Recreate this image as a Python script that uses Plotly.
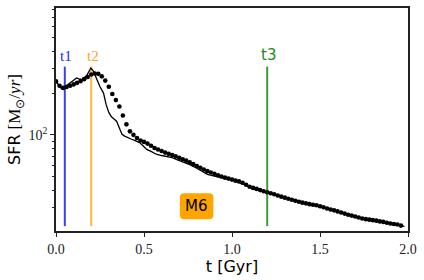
import numpy as np
import plotly.graph_objects as go

# Simulation SFR (solid line)
t_sim = [0.0, 0.015, 0.03, 0.045, 0.06, 0.08, 0.1, 0.117, 0.13, 0.145, 0.16, 0.175, 0.19, 0.197,
         0.205, 0.215, 0.23, 0.25, 0.27, 0.285, 0.3, 0.315, 0.33, 0.345, 0.36, 0.375, 0.39, 0.41,
         0.43, 0.45, 0.475, 0.5, 0.515, 0.54, 0.57, 0.6, 0.63, 0.66, 0.69, 0.72, 0.76, 0.8, 0.83,
         0.86, 0.9, 0.95, 1.0, 1.04, 1.08, 1.12, 1.16, 1.2, 1.25, 1.3, 1.35, 1.4, 1.45, 1.5, 1.55,
         1.6, 1.65, 1.7, 1.75, 1.8, 1.85, 1.9, 1.95, 1.98]
sfr_sim = [243, 228, 216, 219, 226, 237, 246, 257, 253, 250, 258, 268, 290, 303,
           296, 284, 255, 222, 200, 165, 145, 135, 130, 125, 112, 101, 98, 95,
           93, 91, 88, 82, 78.5, 76, 72.5, 71, 70, 68.5, 66, 64, 61, 57.5, 54.5,
           52, 50.5, 49, 47.3, 45.5, 43, 41, 39.8, 38.2, 36.6, 35, 33.6, 32.3, 31.3, 30.4, 29,
           27.9, 26.6, 25.6, 24.6, 24.0, 23.5, 22.9, 22.3, 21.9]

# Model SFR (dots), one every 0.02 Gyr from 0.00 to 1.96
t_mod = [round(0.02 * i, 2) for i in range(99)]
sfr_mod = [
    243, 226, 218, 221, 226, 231, 237, 244, 252, 261,
    272, 277, 275, 264, 246, 222, 197, 178, 160, 138,
    119, 106, 100, 95, 91, 89, 86.5, 83.5, 80.5, 78.5,
    76.5, 74.5, 73, 71.5, 70, 68.3, 66.8, 65.2, 63.5, 61.5,
    59.6, 58, 56.3, 54.8, 53.6, 52.4, 51.2, 50.1, 49.2, 48.4,
    47.6, 46.8, 46.2, 45.2, 43.7, 42.3, 41.5, 40.8, 40, 39.2,
    38.6, 38, 37.3, 36.6, 35.9, 35.3, 34.7, 34.1, 33.5, 33,
    32.5, 32.1, 31.7, 31.4, 31.1, 30.6, 30.1, 29.5, 29.0, 28.6,
    28.1, 27.6, 27.1, 26.6, 26.2, 25.8, 25.4, 25.0, 24.7, 24.5,
    24.3, 24.1, 23.8, 23.6, 23.3, 23.0, 22.8, 22.6, 22.2]

# Marker times
t_marks = [0.05, 0.2, 1.2]
mark_labels = ["t1", "t2", "t3"]
mark_line_colors = ["#3c3cf2", "#ffb53c", "#3a9a3a"]
mark_text_colors = ["#2424f0", "#ffa51a", "#1e8c1e"]
mark_fonts = ["Liberation Serif", "Liberation Serif", "DejaVu Sans"]
mark_y = [22, 310]

y_ticks_minor = [20, 30, 40, 50, 60, 70, 80, 90, 200, 300, 400, 500, 600, 700, 800]
y_range = [np.log10(20.3), np.log10(820)]
x_ticks = [0.0, 0.5, 1.0, 1.5, 2.0]
x_ticklabels = ["0.0", "0.5", "1.0", "1.5", "2.0"]

fig = go.Figure()

for t, c in zip(t_marks, mark_line_colors):
    fig.add_trace(go.Scatter(x=[t, t], y=mark_y, mode="lines",
                             line=dict(color=c, width=2), showlegend=False, hoverinfo="skip"))

fig.add_trace(go.Scatter(x=t_sim, y=sfr_sim, mode="lines",
                         line=dict(color="black", width=1.3), showlegend=False))
fig.add_trace(go.Scatter(x=t_mod, y=sfr_mod, mode="markers",
                         marker=dict(color="black", size=4.6, line=dict(width=0)), showlegend=False))

for t, lab, c, f in zip(t_marks, mark_labels, mark_text_colors, mark_fonts):
    fig.add_annotation(x=t, y=np.log10(mark_y[1]), text=lab, showarrow=False,
                       xanchor="center", yanchor="bottom", xshift=1.5, yshift=1,
                       font=dict(family=f, size=15, color=c))

# Rounded label box for "M6"
x0, x1, y0, y1 = 0.352, 0.447, 0.053, 0.169
rx, ry = 0.012, 0.018
path = (f"M {x0+rx},{y0} L {x1-rx},{y0} Q {x1},{y0} {x1},{y0+ry} L {x1},{y1-ry} "
        f"Q {x1},{y1} {x1-rx},{y1} L {x0+rx},{y1} Q {x0},{y1} {x0},{y1-ry} "
        f"L {x0},{y0+ry} Q {x0},{y0} {x0+rx},{y0} Z")
fig.add_shape(type="path", path=path, xref="paper", yref="paper",
              fillcolor="#ffa500", line=dict(width=0), layer="above")
fig.add_annotation(x=(x0 + x1) / 2, y=(y0 + y1) / 2, xref="paper", yref="paper",
                   xanchor="center", yanchor="middle",
                   text="M6", showarrow=False, font=dict(family="DejaVu Sans", size=15, color="black"))

fig.update_layout(
    width=424, height=280,
    margin=dict(l=56, r=16, t=6, b=49),
    paper_bgcolor="white", plot_bgcolor="white",
    showlegend=False,
)
fig.update_xaxes(
    range=[0, 2.0], tickvals=x_ticks, ticktext=x_ticklabels,
    ticks="outside", ticklen=4, tickwidth=1, tickcolor="#222",
    showline=True, linecolor="#222", linewidth=1.5, mirror=True,
    showgrid=False, zeroline=False,
    tickfont=dict(family="Liberation Serif", size=14, color="#222"),
    title=dict(text="t [Gyr]", font=dict(family="DejaVu Sans", size=16, color="black"), standoff=1),
)
fig.update_yaxes(
    type="log", range=y_range,
    tickvals=[100], ticktext=["10<sup>2</sup>"],
    ticks="outside", ticklen=4, tickwidth=1, tickcolor="#222",
    minor=dict(tickvals=y_ticks_minor, ticks="outside", ticklen=2.5, tickwidth=0.8, tickcolor="#222", showgrid=False),
    showline=True, linecolor="#222", linewidth=1.5, mirror=True,
    showgrid=False, zeroline=False,
    tickfont=dict(family="Liberation Serif", size=14, color="#222"),
    title=dict(text='SFR <span style="font-family:Liberation Serif;font-size:17px">[M<sub>⊙</sub>/<i>yr</i>]</span>',
               font=dict(family="DejaVu Sans", size=16, color="black"), standoff=4),
)

fig.write_html("out.html", config={"displayModeBar": False},
               post_script="document.body.style.margin='0';")
